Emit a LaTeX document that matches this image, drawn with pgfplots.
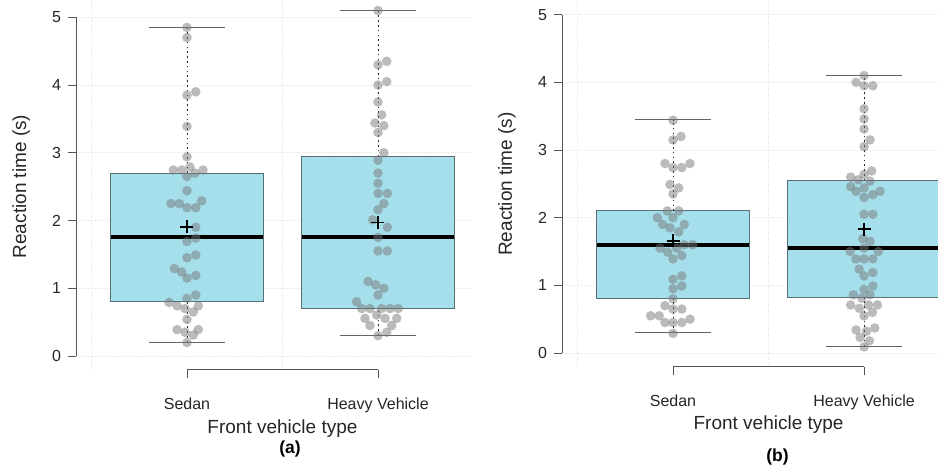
\documentclass[border=0pt]{standalone}
\usepackage{pgfplots}
\pgfplotsset{compat=1.18}
\usepackage{pgfplotstable}
\usepgfplotslibrary{statistics}
\usepackage{fontspec}
\setmainfont{Liberation Sans}
\definecolor{boxfill}{RGB}{165,223,235}
\definecolor{boxedge}{RGB}{88,112,116}
\definecolor{gridc}{RGB}{226,226,226}
\definecolor{axisc}{RGB}{85,85,85}
\definecolor{capc}{RGB}{100,100,100}
\definecolor{ptc}{RGB}{120,120,120}

\pgfplotstableread{
x y
1.000 4.85
1.000 4.70
1.000 3.85
1.046 3.90
1.000 3.39
1.000 2.94
0.928 2.745
0.972 2.745
1.016 2.79
1.042 2.70
1.084 2.745
1.000 2.65
1.000 2.44
0.916 2.25
0.960 2.25
1.000 2.19
1.046 2.19
1.077 2.29
1.046 1.90
1.046 1.74
1.000 1.69
1.046 1.49
1.000 1.45
0.934 1.29
0.972 1.24
1.046 1.19
1.000 1.15
1.046 0.90
1.000 0.85
0.906 0.79
0.948 0.74
1.059 0.74
0.990 0.70
1.033 0.65
1.000 0.54
0.948 0.39
1.059 0.39
0.990 0.35
1.033 0.31
1.000 0.20
}\sedanA

\pgfplotstableread{
x y
2.000 5.10
2.000 4.30
2.046 4.35
2.000 4.00
2.046 4.05
2.000 3.75
2.019 3.56
1.984 3.44
2.031 3.40
2.000 3.30
2.031 3.00
2.000 2.89
2.000 2.70
2.000 2.55
2.000 2.40
2.049 2.40
2.031 2.25
2.000 2.16
1.972 2.01
2.049 1.90
2.000 1.75
2.000 1.55
2.049 1.55
1.948 1.10
1.988 1.05
2.031 1.00
2.000 0.90
1.888 0.80
1.915 0.70
1.958 0.70
2.019 0.70
2.063 0.70
2.106 0.70
1.932 0.556
1.993 0.605
2.037 0.556
2.098 0.556
1.958 0.45
2.072 0.45
2.046 0.35
2.000 0.30
}\heavyA

\pgfplotstableread{
x y
1.000 3.44
1.000 3.15
1.042 3.20
0.958 2.80
1.000 2.74
1.046 2.74
1.089 2.80
0.984 2.49
1.030 2.44
1.000 2.35
0.970 2.10
1.030 2.10
0.918 2.00
1.000 2.00
0.946 1.90
1.059 1.90
0.984 1.85
1.030 1.79
1.059 1.60
1.103 1.60
0.932 1.55
1.019 1.55
0.972 1.49
1.046 1.44
1.000 1.39
1.046 1.14
1.000 1.09
1.046 0.99
1.000 0.95
1.000 0.80
0.958 0.70
1.046 0.65
1.000 0.65
0.883 0.55
0.928 0.55
0.958 0.45
1.000 0.45
1.046 0.45
1.089 0.50
1.000 0.29
}\sedanB

\pgfplotstableread{
x y
2.000 4.10
1.958 4.00
2.000 3.95
2.046 3.95
2.000 3.61
2.000 3.46
2.000 3.31
2.031 3.15
2.000 3.05
2.040 2.69
2.000 2.64
1.930 2.60
1.970 2.56
2.031 2.54
1.930 2.46
2.000 2.44
1.958 2.39
2.084 2.39
2.046 2.34
2.000 2.30
2.000 2.05
2.046 2.05
1.993 1.69
2.031 1.65
2.000 1.55
1.927 1.50
2.075 1.50
1.957 1.39
2.000 1.39
2.046 1.39
1.974 1.24
2.046 1.19
2.000 1.14
2.046 0.99
2.000 0.94
1.944 0.86
1.988 0.81
2.031 0.86
1.930 0.71
1.975 0.66
2.023 0.71
2.070 0.71
2.044 0.60
2.000 0.55
2.056 0.37
1.958 0.34
2.012 0.32
1.979 0.23
2.028 0.18
2.000 0.09
}\heavyB

\pgfplotsset{
  panel/.style={
    scale only axis, clip=false,
    axis line style={draw=none},
    tick pos=left, tick align=outside,
    major tick length=8.5pt,
    tick style={axisc, line width=0.9pt},
    xtick={1,2}, xticklabels={Sedan, Heavy Vehicle},
    ytick={0,1,2,3,4,5},
    minor xtick={0.5,1.5,2.5}, minor tick length=0pt,
    xminorgrids=true, ymajorgrids=true, xmajorgrids=false,
    major grid style={gridc, dotted, line width=0.9pt},
    minor grid style={gridc, dotted, line width=0.9pt},
    tick label style={font=\fontsize{16}{19}\selectfont, text=black!85},
    /pgf/number format/assume math mode=true,
    yticklabel style={xshift=-3.2pt},
    xticklabel style={anchor=base, yshift=-30.7pt},
    label style={font=\fontsize{19}{23}\selectfont, text=black!85},
    xlabel={Front vehicle type},
    ylabel={Reaction time (s)},
    xmin=0.42, ymin=-0.204,
    boxplot/draw direction=y,
  },
  pts/.style={only marks, color=ptc, mark=*, mark size=4.8pt,
    mark options={draw=none, draw opacity=0, fill=ptc, fill opacity=0.5, line width=0pt}},
  whisk/.style={black!85, line width=0.9pt, dash pattern=on 1.6pt off 3.2pt},
  caps/.style={capc, line width=1.1pt},
  med/.style={black, line width=4pt},
  meanm/.style={only marks, mark=+, mark size=6.5pt, mark options={line width=1.8pt, black}},
  bx/.style={fill=boxfill, draw=boxedge, line width=0.9pt},
}

\begin{document}
\begin{tikzpicture}[x=1pt,y=1pt]
% ---------------- panel (a)
\begin{axis}[panel, at={(76.2pt,97.2pt)}, anchor=south west,
  width=393.8pt, height=369.8pt, xmax=2.4817, ymax=5.2555,
  ylabel style={at={(axis description cs:-0.127,0.4957)}, anchor=base},
  xlabel style={at={(axis description cs:0.5238,0)}, anchor=base, yshift=-63.2pt}]
\addplot[bx, boxplot prepared={draw position=1, lower whisker=0.2, lower quartile=0.8, median=1.75, upper quartile=2.7, upper whisker=4.85, box extend=0.8, whisker extend=0.4, every whisker/.style={draw=none}, every median/.style={draw=none}}] coordinates {};
\addplot[bx, boxplot prepared={draw position=2, lower whisker=0.3, lower quartile=0.7, median=1.75, upper quartile=2.95, upper whisker=5.1, box extend=0.8, whisker extend=0.4, every whisker/.style={draw=none}, every median/.style={draw=none}}] coordinates {};
\addplot[pts] table[x=x,y=y] {\sedanA};
\addplot[pts] table[x=x,y=y] {\heavyA};
\addplot[whisk] coordinates {(1,2.7) (1,4.85)};
\addplot[whisk] coordinates {(1,0.2) (1,0.8)};
\addplot[whisk] coordinates {(2,2.95) (2,5.1)};
\addplot[whisk] coordinates {(2,0.3) (2,0.7)};
\addplot[caps] coordinates {(0.8,4.85) (1.2,4.85)};
\addplot[caps] coordinates {(0.8,0.2) (1.2,0.2)};
\addplot[caps] coordinates {(1.8,5.1) (2.2,5.1)};
\addplot[caps] coordinates {(1.8,0.3) (2.2,0.3)};
\addplot[med] coordinates {(0.6,1.75) (1.4,1.75)};
\addplot[med] coordinates {(1.6,1.75) (2.4,1.75)};
\addplot[meanm] coordinates {(1,1.91) (2,1.97)};
\draw[axisc, line width=0.9pt] (axis cs:0.42,0) -- (axis cs:0.42,5);
\draw[axisc, line width=0.9pt] (axis cs:1,-0.204) -- (axis cs:2,-0.204);
\end{axis}
% ---------------- panel (b)
\begin{axis}[panel, at={(562.2pt,100.2pt)}, anchor=south west,
  width=375.8pt, height=366.8pt, xmax=2.387, ymax=5.217,
  ylabel style={at={(axis description cs:-0.1338,0.4983)}, anchor=base},
  xlabel style={at={(axis description cs:0.5491,0)}, anchor=base, yshift=-62.2pt}]
\addplot[bx, boxplot prepared={draw position=1, lower whisker=0.3, lower quartile=0.8, median=1.6, upper quartile=2.1, upper whisker=3.45, box extend=0.8, whisker extend=0.4, every whisker/.style={draw=none}, every median/.style={draw=none}}] coordinates {};
\addplot[bx, boxplot prepared={draw position=2, lower whisker=0.1, lower quartile=0.82, median=1.55, upper quartile=2.55, upper whisker=4.1, box extend=0.8, whisker extend=0.4, every whisker/.style={draw=none}, every median/.style={draw=none}}] coordinates {};
\addplot[pts] table[x=x,y=y] {\sedanB};
\addplot[pts] table[x=x,y=y] {\heavyB};
\addplot[whisk] coordinates {(1,2.1) (1,3.45)};
\addplot[whisk] coordinates {(1,0.3) (1,0.8)};
\addplot[whisk] coordinates {(2,2.55) (2,4.1)};
\addplot[whisk] coordinates {(2,0.1) (2,0.82)};
\addplot[caps] coordinates {(0.8,3.45) (1.2,3.45)};
\addplot[caps] coordinates {(0.8,0.3) (1.2,0.3)};
\addplot[caps] coordinates {(1.8,4.1) (2.2,4.1)};
\addplot[caps] coordinates {(1.8,0.1) (2.2,0.1)};
\addplot[med] coordinates {(0.6,1.6) (1.4,1.6)};
\addplot[med] coordinates {(1.6,1.55) (2.4,1.55)};
\addplot[meanm] coordinates {(1,1.66) (2,1.83)};
\draw[axisc, line width=0.9pt] (axis cs:0.42,0) -- (axis cs:0.42,5);
\draw[axisc, line width=0.9pt] (axis cs:1,-0.204) -- (axis cs:2,-0.204);
\end{axis}
\node[font=\bfseries\fontsize{17.5}{21}\selectfont, anchor=base] at (290pt,13.7pt) {(a)};
\node[font=\bfseries\fontsize{17.5}{21}\selectfont, anchor=base] at (777.5pt,5.2pt) {(b)};
\pgfresetboundingbox
\path[use as bounding box] (0pt,0pt) rectangle (938pt,467pt);
\end{tikzpicture}
\end{document}
